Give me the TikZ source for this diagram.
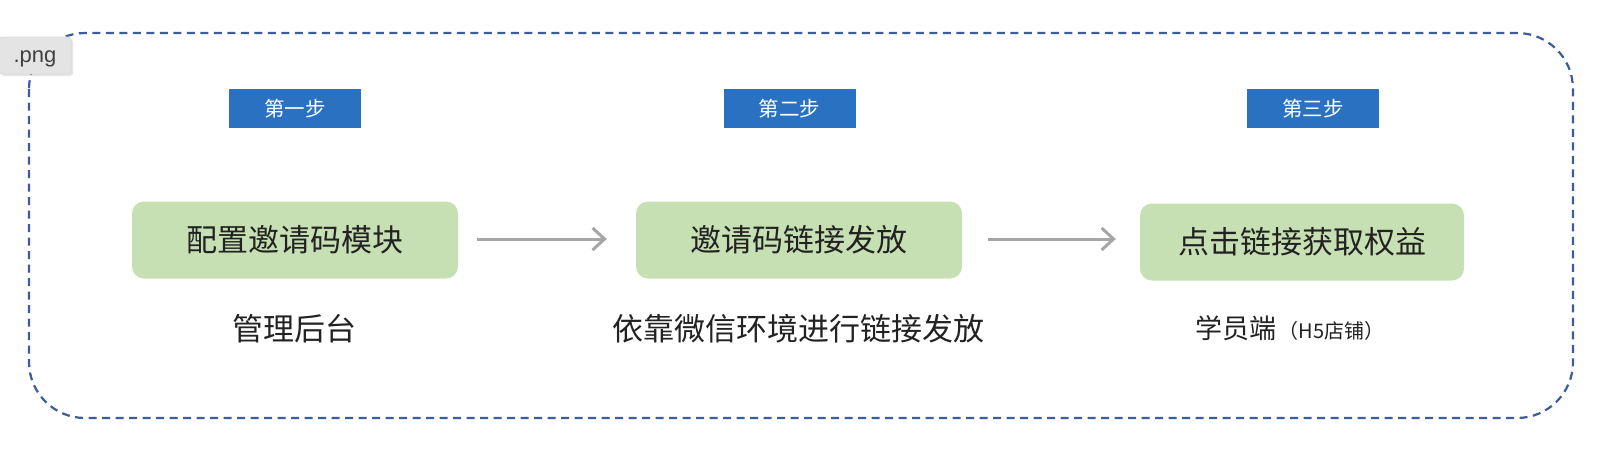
\documentclass[tikz,border=0pt]{standalone}
\usepackage{fontspec}
\setmainfont{Noto Sans CJK SC}
\newfontfamily\latinsans{Liberation Sans}
\usetikzlibrary{arrows.meta,shadows}
\definecolor{framecol}{HTML}{3D5C9A}
\definecolor{stepblue}{HTML}{2A71C2}
\definecolor{boxgreen}{HTML}{C6DFB3}
\definecolor{arrowgray}{HTML}{A6A6A6}
\definecolor{txtdark}{HTML}{222222}
\definecolor{taggray}{HTML}{E4E4E4}
\tikzset{
  framebox/.style={draw=framecol, line width=2.2pt, dash pattern=on 8pt off 5.5pt, rounded corners=56pt},
  stepbox/.style={fill=stepblue, text=white, minimum width=132pt, minimum height=39pt, inner sep=0pt, font=\fontsize{20.5}{22}\selectfont},
  greenbox/.style={fill=boxgreen, rounded corners=12pt, minimum width=326pt, minimum height=77pt, inner sep=0pt, text=txtdark, font=\fontsize{31}{34}\selectfont},
  sublabel/.style={inner sep=0pt, text=txtdark, font=\fontsize{31}{34}\selectfont},
  flow/.style={draw=arrowgray, line width=3pt, -{Straight Barb[length=12pt,width=22pt,line width=3pt]}},
  tagbox/.style={fill=taggray, draw=black!14, line width=0.8pt, rounded corners=3pt, minimum width=72pt, minimum height=37pt, inner sep=0pt, text=black!75, font=\latinsans\fontsize{22}{24}\selectfont, drop shadow={opacity=0.2, shadow xshift=2pt, shadow yshift=-2pt}}
}
\begin{document}
\begin{tikzpicture}[x=1pt,y=-1pt]
\useasboundingbox (0,0) rectangle (1616,472);
\fill[white] (0,0) rectangle (1616,472);
\draw[framebox] (29,33) rectangle (1573,418);

\node[stepbox] (s1) at (295,108.5) {第一步};
\node[stepbox] (s2) at (789.5,108.5) {第二步};
\node[stepbox] (s3) at (1313,108.5) {第三步};

\node[greenbox] (b1) at (295,240) {配置邀请码模块};
\node[greenbox] (b2) at (799,240) {邀请码链接发放};
\node[greenbox, minimum width=324pt] (b3) at (1302,242) {点击链接获取权益};

\node[sublabel] (l1) at (294,329) {管理后台};
\node[sublabel] (l2) at (798,329) {依靠微信环境进行链接发放};
\node[sublabel] (l3) at (1290,328) {{\fontsize{27}{30}\selectfont 学员端}\hspace{2pt}{\fontsize{20}{22}\selectfont （H5店铺）}};

\draw[flow] ([xshift=19pt]b1.east |- 0,239) -- ([xshift=-29pt]b2.west |- 0,239);
\draw[flow] ([xshift=26pt]b2.east |- 0,239) -- ([xshift=-24pt]b3.west |- 0,239);

\node[tagbox] (tag) at (35,55.5) {\raisebox{0pt}[16pt][1.5pt]{.png}};
\end{tikzpicture}
\end{document}
